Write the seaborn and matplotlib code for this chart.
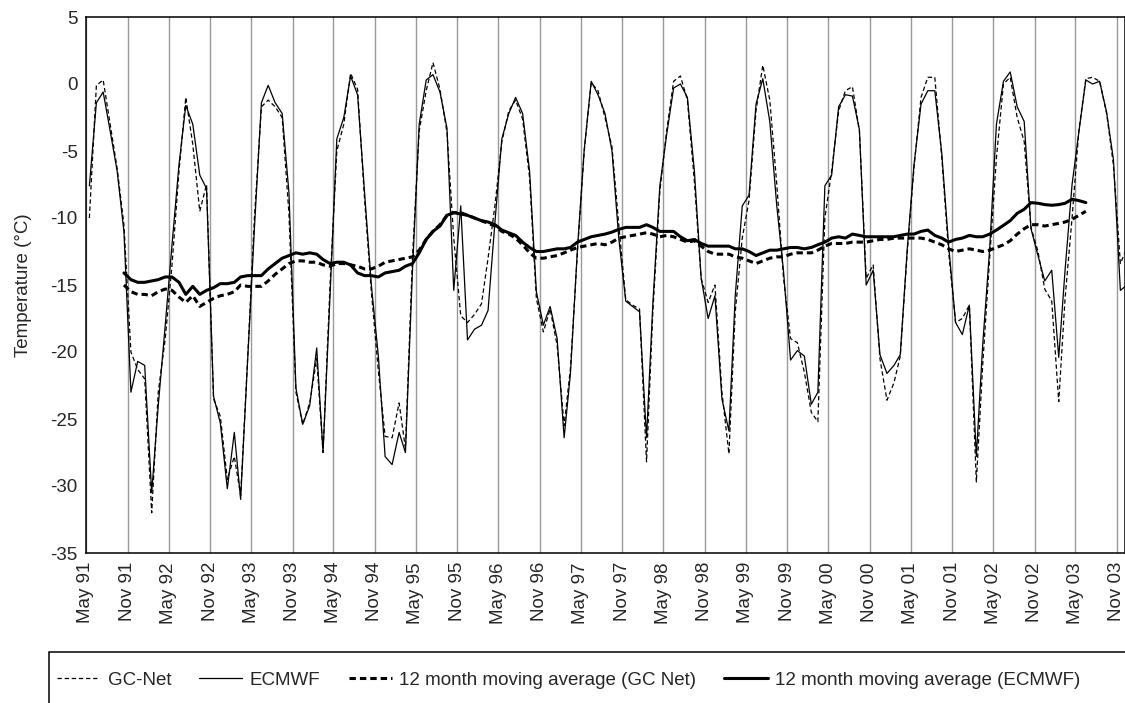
import pandas as pd
import numpy as np
import matplotlib
matplotlib.use("Agg")
import matplotlib.pyplot as plt
import matplotlib.patches as mpatches
from matplotlib.lines import Line2D
import seaborn as sns

# ===== DATA (monthly means, May 1991 onwards) =====
gcnet = [
    -10, -0.1, 0.3, -3, -6.3, -10.5, -20, -21.3, -22, -32,
    -23, -19, -13.5, -6.5, -1, -4.5, -9.5, -7.5, -23.5, -24.8,
    -29.5, -27.8, -30.7, -20.5, -10, -1.7, -1.2, -1.7, -2.5, -9.7,
    -23, -25.4, -23.8, -20.5, -27.5, -15, -5, -3, 0.8, -0.4,
    -8.6, -15.5, -21.4, -26.3, -26.4, -23.8, -27.2, -13, -3.5, -0.5,
    1.6, -0.4, -3.6, -11.5, -17.3, -17.8, -17.2, -16.4, -13, -9,
    -4.3, -2, -1.2, -2.6, -7, -16, -18.5, -16.8, -19.5, -25.5,
    -21.2, -12.5, -5, 0.1, -0.5, -2.5, -4.7, -10.5, -16.1, -16.5,
    -16.8, -28.2, -17, -8, -3.5, 0.2, 0.6, -1.2, -7.3, -14.5,
    -16.3, -15, -23, -27.6, -17, -11.5, -8.7, -2, 1.4, -1.2,
    -7.5, -14.5, -19, -19.3, -21.5, -24.5, -25.2, -10, -6.5, -2,
    -0.5, -0.2, -3.5, -14.5, -13.5, -20.5, -23.6, -22.3, -20.3, -12.5,
    -6.2, -1, 0.5, 0.5, -5.5, -12.5, -17.8, -17.5, -16.5, -29.7,
    -21, -13, -5.5, 0, 0.5, -2.5, -4.3, -10.7, -12.5, -15.3,
    -16.2, -23.7, -16, -10, -3.5, 0.4, 0.5, 0.2, -2.2, -6,
    -13.4, -12.2,
]

ecmwf = [
    -7.6, -1.4, -0.6, -3.5, -6.5, -11, -23, -20.7, -21, -30.5,
    -24, -18, -12, -6, -1.6, -3, -6.8, -7.8, -23.3, -25.3,
    -30.2, -26, -31, -20.6, -10.8, -1.4, -0.1, -1.4, -2.2, -8.1,
    -22.7, -25.4, -24, -19.7, -27.5, -15.8, -4.1, -2.5, 0.6, -0.8,
    -8.1, -15, -20.3, -27.8, -28.4, -26, -27.5, -14, -3, 0.3,
    0.7, -0.6, -3.3, -15.4, -9.1, -19.1, -18.3, -18, -16.9, -10.2,
    -4.1, -2.2, -1, -2.2, -6.5, -15.5, -18, -16.6, -19, -26.4,
    -21.6, -12.3, -4.9, 0.2, -0.8, -2.2, -5, -11.5, -16.2, -16.6,
    -17, -26.4, -16.4, -7.6, -3.8, -0.3, 0, -1, -6.5, -14.5,
    -17.5, -15.8, -23.5, -25.9, -15.8, -9.1, -8.3, -1.5, 0.4, -2.8,
    -9.1, -14, -20.6, -19.9, -20.3, -23.9, -23, -7.6, -6.8, -1.7,
    -0.8, -0.9, -3.4, -15, -13.9, -20.2, -21.6, -21, -20.2, -12.3,
    -6, -1.5, -0.5, -0.5, -5.2, -12, -17.8, -18.7, -16.5, -27.8,
    -19.5, -12.3, -3, 0.2, 0.9, -1.7, -2.8, -10.8, -12.8, -14.7,
    -13.9, -20.4, -13.9, -7.5, -3.6, 0.3, 0, 0.2, -2.1, -5.6,
    -15.4, -15,
]

# 12 month moving averages, Oct 1991 to Jun 2003
ma_gcnet = [
    -15, -15.5, -15.7, -15.7, -15.8, -15.5, -15.3, -15.4, -15.9, -16.3,
    -15.8, -16.6, -16.3, -16, -15.8, -15.7, -15.5, -15, -15.1, -15.1,
    -15.1, -14.7, -14.2, -13.8, -13.4, -13.2, -13.2, -13.3, -13.3, -13.5,
    -13.6, -13.4, -13.4, -13.5, -13.6, -13.8, -13.8, -13.6, -13.3, -13.2,
    -13.1, -13, -12.9, -12.4, -11.6, -11, -10.5, -9.8, -9.6, -9.6,
    -9.8, -10, -10.2, -10.4, -10.6, -11, -11.2, -11.5, -12, -12.6,
    -13, -13, -12.9, -12.8, -12.6, -12.4, -12.2, -12.1, -12, -11.9,
    -12, -11.8, -11.5, -11.4, -11.3, -11.2, -11.1, -11.2, -11.4, -11.3,
    -11.4, -11.6, -11.8, -11.7, -12.1, -12.5, -12.7, -12.7, -12.7, -12.9,
    -13, -13.2, -13.4, -13.2, -13, -12.9, -12.9, -12.7, -12.6, -12.6,
    -12.6, -12.4, -12.1, -11.9, -11.9, -11.9, -11.8, -11.8, -11.8, -11.7,
    -11.6, -11.6, -11.5, -11.5, -11.5, -11.5, -11.5, -11.6, -11.8, -12,
    -12.3, -12.5, -12.4, -12.3, -12.4, -12.5, -12.4, -12.2, -12, -11.7,
    -11.2, -10.8, -10.5, -10.5, -10.6, -10.5, -10.4, -10.3, -10.1, -9.8,
    -9.5,
]

ma_ecmwf = [
    -14.1, -14.6, -14.8, -14.8, -14.7, -14.6, -14.4, -14.4, -14.8, -15.7,
    -15.1, -15.7, -15.4, -15.2, -14.9, -14.9, -14.8, -14.4, -14.3, -14.3,
    -14.3, -13.8, -13.4, -13, -12.8, -12.6, -12.7, -12.6, -12.7, -13.1,
    -13.4, -13.3, -13.3, -13.5, -14.1, -14.3, -14.3, -14.4, -14.1, -14,
    -13.9, -13.6, -13.4, -12.6, -11.6, -11, -10.6, -9.8, -9.6, -9.7,
    -9.8, -10, -10.2, -10.3, -10.5, -10.9, -11.1, -11.3, -11.8, -12.2,
    -12.5, -12.5, -12.4, -12.3, -12.3, -12.2, -11.8, -11.6, -11.4, -11.3,
    -11.2, -11.05, -10.85, -10.7, -10.7, -10.7, -10.5, -10.7, -11, -11,
    -11, -11.4, -11.7, -11.6, -11.9, -12.1, -12.1, -12.1, -12.1, -12.3,
    -12.3, -12.5, -12.8, -12.6, -12.4, -12.4, -12.3, -12.2, -12.2, -12.3,
    -12.2, -12, -11.8, -11.5, -11.4, -11.5, -11.2, -11.3, -11.4, -11.4,
    -11.4, -11.4, -11.4, -11.3, -11.2, -11.2, -11, -10.9, -11.3, -11.5,
    -11.8, -11.6, -11.5, -11.3, -11.4, -11.4, -11.2, -10.9, -10.55, -10.2,
    -9.65, -9.35, -8.85, -8.9, -9, -9.05, -9, -8.9, -8.6, -8.7,
    -8.85,
]

tick_labels = [
    "May 91", "Nov 91", "May 92", "Nov 92", "May 93", "Nov 93", "May 94",
    "Nov 94", "May 95", "Nov 95", "May 96", "Nov 96", "May 97", "Nov 97",
    "May 98", "Nov 98", "May 99", "Nov 99", "May 00", "Nov 00", "May 01",
    "Nov 01", "May 02", "Nov 02", "May 03", "Nov 03",
]
legend_labels = [
    "GC-Net", "ECMWF",
    "12 month moving average (GC Net)",
    "12 month moving average (ECMWF)",
]

# monthly values are plotted mid-month
months = pd.date_range("1991-05-01", periods=len(ecmwf), freq="MS") + pd.Timedelta(days=15)
ma_months = months[5:5 + len(ma_ecmwf)]
tick_dates = pd.date_range("1991-05-01", periods=len(tick_labels), freq="6MS")

# ===== STYLE =====
sns.set_style("white")
plt.rcParams["font.family"] = ["Liberation Sans", "DejaVu Sans"]
plt.rcParams["axes.unicode_minus"] = False
plt.rcParams["font.size"] = 13.5

W, H = 1125, 703
fig = plt.figure(figsize=(W / 100, H / 100), dpi=100)
ax = fig.add_axes([86 / W, 1 - 553 / H, (W - 86) / W, (553 - 17) / H])

thin_dash = (0, (3.5, 2.2))
thick_dash = (0, (2.1, 1.3))

sns.lineplot(x=months, y=gcnet, ax=ax, color="black", lw=0.9, linestyle=thin_dash)
sns.lineplot(x=months, y=ecmwf, ax=ax, color="black", lw=0.9)
sns.lineplot(x=ma_months, y=ma_gcnet, ax=ax, color="black", lw=2.2, linestyle=thick_dash)
sns.lineplot(x=ma_months, y=ma_ecmwf, ax=ax, color="black", lw=2.2)

ax.set_xlim(pd.Timestamp("1991-05-01"), pd.Timestamp("2003-12-06 12:00"))
ax.set_ylim(-35, 5)
ax.set_yticks(range(-35, 6, 5))
ax.set_xticks(tick_dates)
ax.set_xticklabels(tick_labels, rotation=90, va="top", ha="center")
ax.grid(axis="x", color="#9a9a9a", lw=1.0)
ax.grid(axis="y", visible=False)
ax.tick_params(axis="x", length=0, pad=6.5, labelsize=13.5)
ax.tick_params(axis="y", length=0, pad=6, labelsize=13.5)
for s in ax.spines.values():
    s.set_color("black")
    s.set_linewidth(1.1)

ax.set_xlabel("")
ax.set_ylabel("Temperature (°C)", fontsize=13.5)
ax.yaxis.set_label_coords(-0.052, 0.5)

# ===== LEGEND =====
handles = [
    Line2D([], [], color="black", lw=0.9, linestyle=thin_dash),
    Line2D([], [], color="black", lw=0.9),
    Line2D([], [], color="black", lw=2.2, linestyle=thick_dash),
    Line2D([], [], color="black", lw=2.2),
]
fig.legend(handles, legend_labels, loc="center left",
           bbox_to_anchor=(57 / W, 1 - 680 / H), ncol=4, frameon=False,
           handlelength=2.3, handletextpad=0.4, columnspacing=1.5,
           borderpad=0, borderaxespad=0, fontsize=13.5)
fig.add_artist(mpatches.Rectangle((49 / W, -0.1), 1.2, 0.1 + 1 - 652 / H,
                                  transform=fig.transFigure, fill=False,
                                  ec="black", lw=1.1, clip_on=False))

fig.savefig("out.png", dpi=100)
